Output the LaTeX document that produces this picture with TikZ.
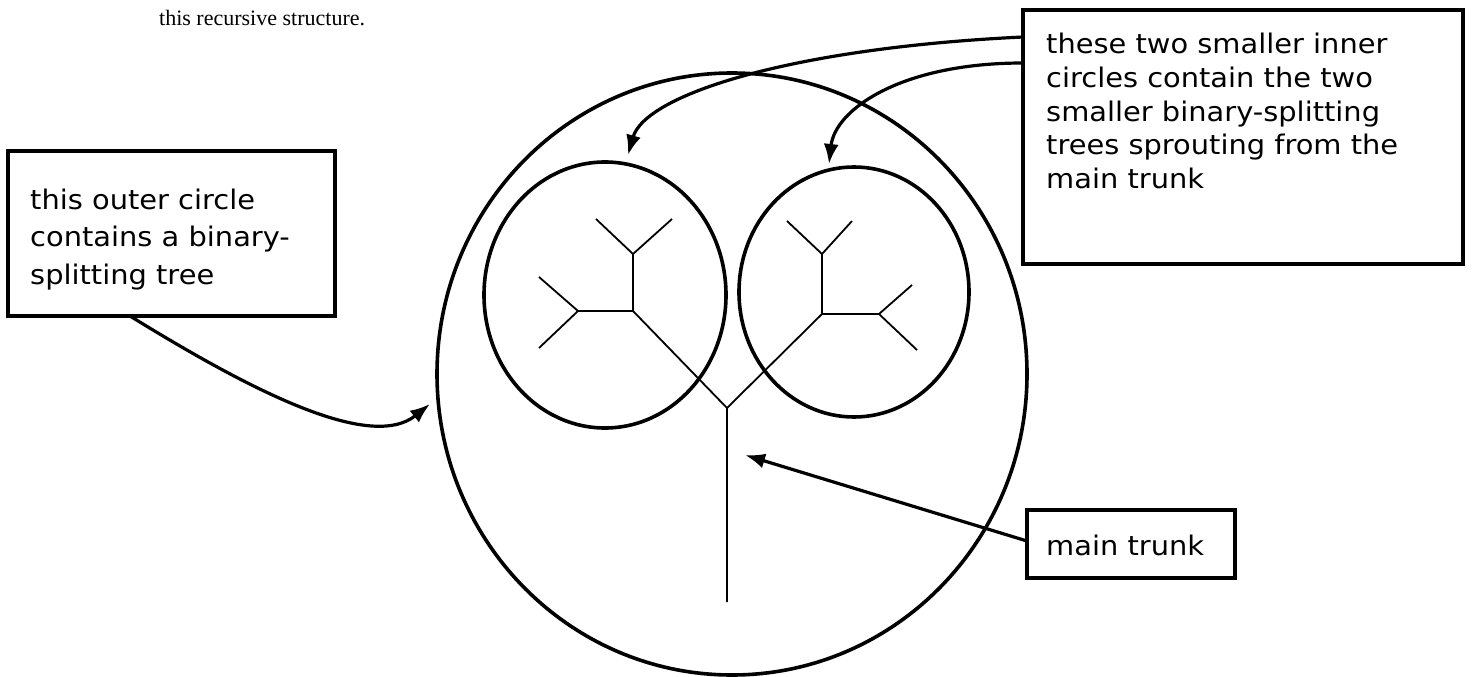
\documentclass[tikz,border=0pt]{standalone}
\usepackage{fontspec}
\setmainfont{Liberation Serif}
\newfontfamily\boxfont[FakeStretch=1.07]{DejaVu Sans}
\usetikzlibrary{shapes.geometric,arrows.meta}
\tikzset{
  ring/.style={draw, ellipse, line width=3.6pt, inner sep=0pt},
  tbox/.style={draw, rectangle, line width=4pt, inner sep=0pt},
  lbl/.style={anchor=base west, inner sep=0pt, font=\boxfont\fontsize{27}{32}\selectfont},
  branch/.style={line width=1.8pt, line join=miter},
  arr/.style={line width=3.2pt, -{Latex[length=20pt,width=15pt]}},
}
\begin{document}
\begin{tikzpicture}[x=1pt,y=-1pt]
\useasboundingbox (0,0) rectangle (1472,677);

% caption
\node[anchor=base west, inner sep=0pt, font=\fontsize{22}{26}\selectfont] (cap) at (159,26) {this recursive structure.};

% circles
\node[ring, minimum width=590pt, minimum height=602pt] (outer) at (732,374) {};
\node[ring, minimum width=242pt, minimum height=266pt] (innerL) at (605,295) {};
\node[ring, minimum width=230pt, minimum height=250pt] (innerR) at (854,292) {};

% tree
\coordinate (J0) at (727,408);
\coordinate (T0) at (727,602);
\coordinate (L1) at (633,311);
\coordinate (R1) at (822,314);
\coordinate (LU) at (633,254);
\coordinate (LL) at (578,311);
\coordinate (RU) at (822,254);
\coordinate (RR) at (879,314);
\draw[branch] (T0) -- (J0) -- (L1);
\draw[branch] (J0) -- (R1);
\draw[branch] (LL) -- (L1) -- (LU);
\draw[branch] (RU) -- (R1) -- (RR);
\draw[branch] (596,219) -- (LU) -- (672,219);
\draw[branch] (539,277) -- (LL) -- (539,348);
\draw[branch] (787,221) -- (RU) -- (852,221);
\draw[branch] (912,285) -- (RR) -- (917,350);

% boxes
\node[tbox, minimum width=327pt, minimum height=165pt] (lbox) at (171.5,233.5) {};
\node[lbl] (l1) at (30,209) {this outer circle};
\node[lbl] (l2) at (30,246.5) {contains a binary-};
\node[lbl] (l3) at (30,284) {splitting tree};

\node[tbox, minimum width=440pt, minimum height=254pt] (rbox) at (1243,137) {};
\node[lbl] (r1) at (1046,54) {these two smaller inner};
\node[lbl] (r2) at (1046,87.5) {circles contain the two};
\node[lbl] (r3) at (1046,121) {smaller binary-splitting};
\node[lbl] (r4) at (1046,154.5) {trees sprouting from the};
\node[lbl] (r5) at (1046,188) {main trunk};

\node[tbox, minimum width=208pt, minimum height=68pt] (mbox) at (1131,544) {};
\node[lbl] (m1) at (1046,555) {main trunk};

% arrows
\coordinate (s1) at (1023,37);
\coordinate (s2) at (1023,63);
\coordinate (t1) at (628,155);
\coordinate (t2) at (829,164);
\coordinate (s3) at (130,316);
\coordinate (t3) at (430,404);
\coordinate (s4) at (1027,541);
\coordinate (t4) at (745,455);
\draw[arr] (s1) .. controls (790,48) and (645,95) .. (t1);
\draw[arr] (s2) .. controls (900,63) and (835,110) .. (t2);
\draw[arr] (s3) .. controls (250,390) and (370,452) .. (t3);
\draw[arr] (s4) -- (t4);
\end{tikzpicture}
\end{document}
